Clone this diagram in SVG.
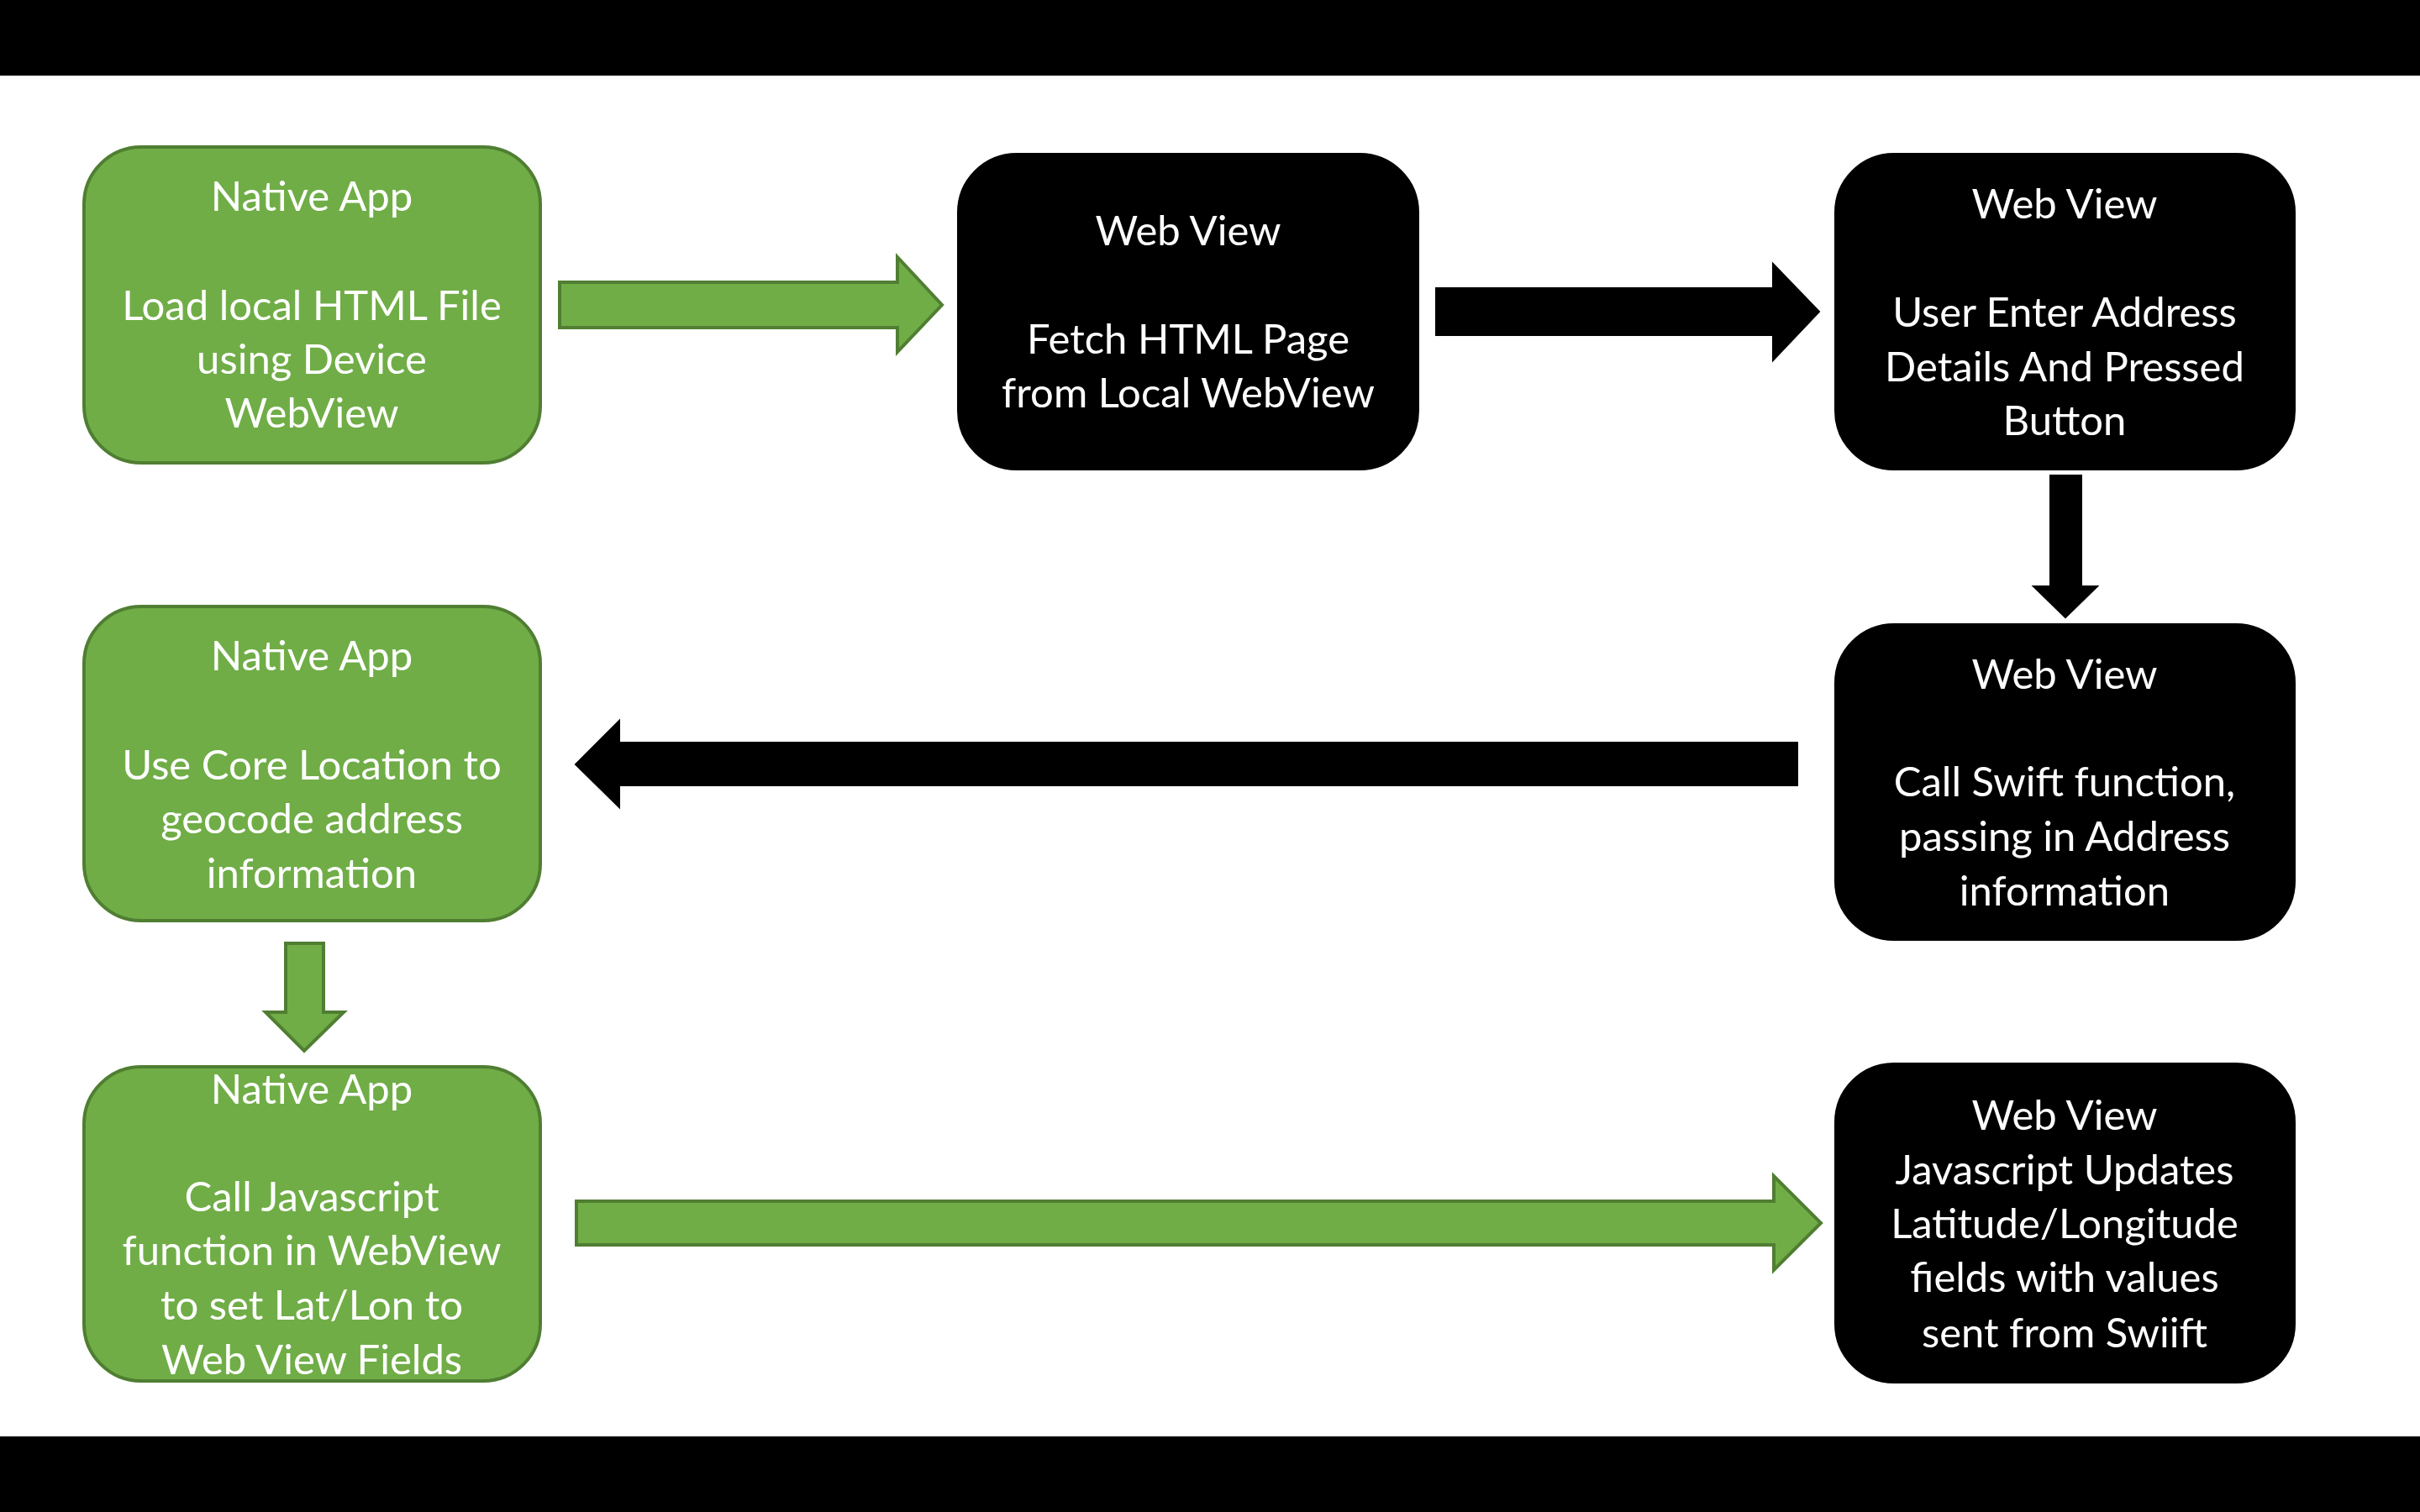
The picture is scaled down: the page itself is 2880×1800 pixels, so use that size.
<svg xmlns="http://www.w3.org/2000/svg" width="2880" height="1800" viewBox="0 0 2880 1800">
<style>
.g{fill:#70AD47;stroke:#507E32;stroke-width:4}
.b{fill:#000;stroke:#000;stroke-width:2}
.t{font-family:Lato,"Open Sans","Liberation Sans",sans-serif;font-size:49px;fill:#fff;text-anchor:middle}
</style>
<rect x="0" y="0" width="2880" height="1800" fill="#fff"/>
<rect x="0" y="0" width="2880" height="90" fill="#000"/>
<rect x="0" y="1710" width="2880" height="90" fill="#000"/>
<g id="connectors">
<polygon class="g" points="666,336 1068,336 1068,306 1121,363 1068,419 1068,390 666,390"/>
<polygon class="b" points="1709,343 2110,343 2110,314 2165,371 2110,429 2110,399 1709,399"/>
<polygon class="b" points="2440,566 2477,566 2477,698 2496,698 2458,735 2420,698 2440,698"/>
<polygon class="b" points="2139,884 737,884 737,858 685,910 737,961 737,935 2139,935"/>
<polygon class="g" points="340,1123 385,1123 385,1205 409,1205 362,1251 316,1205 340,1205"/>
<polygon class="g" points="686,1430 2111,1430 2111,1400 2167,1456 2111,1512 2111,1482 686,1482"/>
</g>
<g id="n1">
<rect class="g" x="100" y="175" width="543" height="376" rx="68"/>
<text class="t" x="371" y="251">Native App</text>
<text class="t" x="371" y="381">Load local HTML File</text>
<text class="t" x="371" y="445">using Device</text>
<text class="t" x="371" y="509">WebView</text>
</g>
<g id="n2">
<rect class="b" x="1140" y="183" width="548" height="376" rx="70"/>
<text class="t" x="1414" y="292">Web View</text>
<text class="t" x="1414" y="421">Fetch HTML Page</text>
<text class="t" x="1414" y="485">from Local WebView</text>
</g>
<g id="n3">
<rect class="b" x="2184" y="183" width="547" height="376" rx="70"/>
<text class="t" x="2457" y="260">Web View</text>
<text class="t" x="2457" y="389">User Enter Address</text>
<text class="t" x="2457" y="454">Details And Pressed</text>
<text class="t" x="2457" y="518">Button</text>
</g>
<g id="n4">
<rect class="b" x="2184" y="743" width="547" height="376" rx="70"/>
<text class="t" x="2457" y="820">Web View</text>
<text class="t" x="2457" y="948">Call Swift function,</text>
<text class="t" x="2457" y="1013">passing in Address</text>
<text class="t" x="2457" y="1078">information</text>
</g>
<g id="n5">
<rect class="g" x="100" y="722" width="543" height="374" rx="68"/>
<text class="t" x="371" y="798">Native App</text>
<text class="t" x="371" y="928">Use Core Location to</text>
<text class="t" x="371" y="992">geocode address</text>
<text class="t" x="371" y="1057">information</text>
</g>
<g id="n6">
<rect class="g" x="100" y="1270" width="543" height="374" rx="68"/>
<text class="t" x="371" y="1314">Native App</text>
<text class="t" x="371" y="1442">Call Javascript</text>
<text class="t" x="371" y="1506">function in WebView</text>
<text class="t" x="371" y="1571">to set Lat/Lon to</text>
<text class="t" x="371" y="1636">Web View Fields</text>
</g>
<g id="n7">
<rect class="b" x="2184" y="1266" width="547" height="380" rx="70"/>
<text class="t" x="2457" y="1345">Web View</text>
<text class="t" x="2457" y="1410">Javascript Updates</text>
<text class="t" x="2457" y="1474">Latitude/Longitude</text>
<text class="t" x="2457" y="1538">fields with values</text>
<text class="t" x="2457" y="1604">sent from Swiift</text>
</g>
</svg>
